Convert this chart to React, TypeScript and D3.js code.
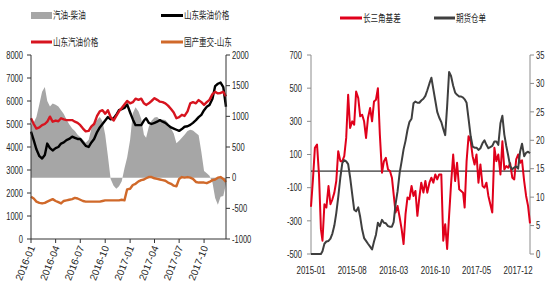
import React from 'react';
import * as d3 from 'd3';

const FONT = "'Liberation Sans', Arial, 'Noto Sans CJK SC', sans-serif";

// Dates at the 1st, 11th and 21st of each month
function dekadDates(year: number, month0: number, months: number): Date[] {
  const out: Date[] = [];
  for (let i = 0; i < months; i++) {
    for (const d of [1, 11, 21]) out.push(new Date(year, month0 + i, d));
  }
  return out;
}

// ---------- Left chart: Shandong fuel prices (2016-01 .. 2017-12) ----------
const leftDates = dekadDates(2016, 0, 24);

// 汽油-柴油 (right axis)
const gasDieselSpread = [
  859, 900, 990, 1200, 1400, 1480, 1250, 1160, 1210, 1190, 1160, 1100,
  1040, 950, 870, 800, 760, 700, 660, 620, 570, 620, 800, 900,
  940, 990, 920, 700, 350, -20, -130, -180, -140, -60, 150, 330,
  620, 1050, 1150, 1080, 960, 700, 650, 830, 930, 980, 990, 940,
  950, 940, 890, 800, 720, 560, 600, 650, 700, 760, 780, 770,
  730, 690, 420, 110, 70, 30, -80, -330, -440, -310, -300, -100,
];

// 山东柴油价格 (left axis)
const dieselPrice = [
  4670, 4300, 3900, 3600, 3500, 3650, 4150, 3950, 3850, 3950, 4000, 4150,
  4200, 4300, 4350, 4450, 4400, 4350, 4350, 4200, 4050, 4000, 4200, 4350,
  4650, 4850, 5000, 5150, 5300, 5200, 5250, 5400, 5600, 5650, 5700, 5850,
  5500, 5200, 4950, 4950, 4950, 5150, 5250, 5050, 5000, 5050, 5100, 5170,
  5100, 5050, 4950, 4850, 4800, 4750, 4700, 4780, 4880, 4900, 4960, 5050,
  5170, 5300, 5400, 5600, 5750, 5830, 6100, 6650, 6750, 6800, 6600, 5750,
];

// 山东汽油价格 (left axis)
const gasolinePrice = [
  5250, 5000, 4800, 4850, 4950, 5000, 5100, 5320, 5100, 5150, 5120, 5250,
  5200, 5170, 5170, 5170, 5100, 5050, 4950, 4800, 4680, 4700, 4900, 5000,
  5350, 5550, 5600, 5450, 5600, 5300, 5150, 5350, 5550, 5700, 5850, 6000,
  5900, 5950, 6100, 6050, 6100, 5900, 5830, 5900, 6000, 6120, 6050, 5970,
  5950, 5900, 5800, 5650, 5500, 5250, 5300, 5400, 5350, 5550, 5900, 5950,
  5900, 6040, 5950, 5830, 5950, 6050, 6300, 6400, 6330, 6350, 6400, 6200,
];

// 国产重交-山东 (right axis)
const heavyAsphaltSpread = [
  -310, -340, -390, -410, -420, -410, -390, -370, -350, -380, -400, -420,
  -380, -370, -360, -350, -330, -340, -360, -380, -390, -390, -390, -390,
  -390, -390, -380, -370, -370, -370, -370, -370, -370, -360, -370, -190,
  -180, -120, -100, -60, -40, -30, -10, 10, 10, -10, -20, -30,
  -40, -50, -80, -100, -130, -140, -20, 10, 0, 10, 0, -20,
  -70, -80, -80, -80, -90, -70, -40, -30, 0, 10, -20, -70,
];

const leftTicksL = [0, 1000, 2000, 3000, 4000, 5000, 6000, 7000, 8000];
const leftTicksR = [-1000, -500, 0, 500, 1000, 1500, 2000];
const leftXTicks = ['2016-01', '2016-04', '2016-07', '2016-10', '2017-01', '2017-04', '2017-07', '2017-10'];

// ---------- Right chart: Yangtze delta basis & warehouse receipts (2015-01 .. 2018-01) ----------
const rightDates = [...dekadDates(2015, 0, 37), new Date(2018, 0, 31)];

// 长三角基差 (left axis)
const deltaBasis = [
  -215, -50, 140, 160, -20, -350, -420, -200, -220, -90, -200, -170,
  -130, -60, 120, 60, 60, 90, 200, 460, 260, 300, 280, 480,
  440, 330, 340, 300, 200, 320, 380, 300, 420, 430, 500, 220,
  -10, 60, 80, 10, 0, -40, -140, -250, -210, -280, -350, -440,
  -260, -160, -170, -90, -150, -120, -270, -160, -70, -130, -60, -130,
  -70, -40, -70, -20, -50, -20, -20, -420, -320, -470, -270, -80,
  100, -60, 50, -110, -120, -130, -220, 60, 210, 180, 90, 40,
  100, -70, 40, -90, -100, -70, -150, -200, -250, 140, 60, 100,
  -20, 180, 10, 30, 20, 47, -40, -50, 70, 100, 50, 65,
  -60, -150, -210, -315,
];

// 期货仓单 (right axis)
const futuresReceipts = [
  0, 0, 0, 0, 0, 0, 0.5, 1.8, 2.2, 2.3, 2.7, 3.6,
  5, 7.2, 10, 13.5, 16, 16.5, 16.3, 15.8, 13.5, 10.5, 7.8, 7.5,
  8.2, 6.5, 4.3, 2.8, 2.3, 1.8, 1.3, 0.8, 2.2, 3.4, 5.5, 4.9,
  6, 5.5, 5.4, 4.9, 4.8, 4.8, 5.6, 8.8, 11, 14.3, 16.3, 18.4,
  19.9, 21.8, 23.2, 23.8, 26.5, 26.8, 26.6, 26.6, 27, 27.3, 27.8, 28.8,
  30, 31, 29, 27, 25, 24, 23.2, 22, 20.9, 26, 32, 31.3,
  29.6, 28.4, 28, 27.7, 27.7, 27.5, 27.2, 26.6, 23.8, 20.7, 18.9, 18.7,
  18.7, 18.3, 18.6, 19.5, 20, 19.2, 18.6, 18.8, 19, 19.8, 19.8, 19.2,
  23, 24.3, 21, 19, 17.3, 15.4, 14.9, 15.2, 15.4, 15, 18, 19.4,
  17.2, 17.8, 18, 17.7,
];

const rightTicksL = [-500, -300, -100, 100, 300, 500, 700];
const rightTicksR = [0, 5, 10, 15, 20, 25, 30, 35];
const rightXTicks = ['2015-01', '2015-08', '2016-03', '2016-10', '2017-05', '2017-12'];

const parseMonth = d3.timeParse('%Y-%m');

type TProps = {
  x: number; y: number; anchor?: string; size?: number; sx?: number;
  fill?: string; rotate?: number; dy?: string; children: React.ReactNode;
};
// Horizontally condensed text
function CText({ x, y, anchor = 'start', size = 10.5, sx = 0.72, fill = '#262626', rotate = 0, dy = '0.35em', children }: TProps) {
  return (
    <g transform={`translate(${x},${y})${rotate ? ` rotate(${rotate})` : ''} scale(${sx},1)`}>
      <text textAnchor={anchor as any} fontSize={size} fontFamily={FONT} fill={fill} dy={dy}>{children}</text>
    </g>
  );
}

function LeftChart() {
  const x0 = 31, x1 = 226, yTop = 55, yBot = 239;
  const x = d3.scaleTime().domain([new Date(2016, 0, 1), new Date(2017, 11, 21)]).range([x0, x1]);
  const yL = d3.scaleLinear().domain([0, 8000]).range([yBot, yTop]);
  const yR = d3.scaleLinear().domain([-1000, 2000]).range([yBot, yTop]);

  const area = d3.area<number>()
    .x((_, i) => x(leftDates[i]))
    .y0(yR(0))
    .y1((d) => yR(d));
  const lineL = d3.line<number>().x((_, i) => x(leftDates[i])).y((d) => yL(d));
  const lineR = d3.line<number>().x((_, i) => x(leftDates[i])).y((d) => yR(d));

  const axisColor = '#333';
  return (
    <g>
      {/* legend */}
      <rect x={31} y={12} width={21} height={7} fill="#a6a6a6" />
      <CText x={53} y={15.5}>汽油-柴油</CText>
      <line x1={161} x2={183} y1={15.5} y2={15.5} stroke="#000" strokeWidth={3} />
      <CText x={184} y={15.5}>山东柴油价格</CText>
      <line x1={31} x2={52} y1={42} y2={42} stroke="#d7141f" strokeWidth={3} />
      <CText x={53} y={42}>山东汽油价格</CText>
      <line x1={161} x2={183} y1={42} y2={42} stroke="#d0692a" strokeWidth={3} />
      <CText x={184} y={42}>国产重交-山东</CText>

      {/* series */}
      <path d={area(gasDieselSpread) || ''} fill="#a6a6a6" />
      <path d={lineL(dieselPrice) || ''} fill="none" stroke="#000" strokeWidth={2.4} strokeLinejoin="round" />
      <path d={lineL(gasolinePrice) || ''} fill="none" stroke="#d7141f" strokeWidth={2.4} strokeLinejoin="round" />
      <path d={lineR(heavyAsphaltSpread) || ''} fill="none" stroke="#d0692a" strokeWidth={2.4} strokeLinejoin="round" />

      {/* axes */}
      <line x1={x0} x2={x0} y1={yTop} y2={yBot} stroke={axisColor} strokeWidth={1} />
      <line x1={x1} x2={x1} y1={yTop} y2={yBot} stroke={axisColor} strokeWidth={1} />
      <line x1={x0} x2={x1} y1={yBot} y2={yBot} stroke={axisColor} strokeWidth={1} />
      {leftTicksL.map((v) => (
        <g key={`l${v}`}>
          <line x1={x0 - 4} x2={x0} y1={yL(v)} y2={yL(v)} stroke={axisColor} />
          <CText x={23} y={yL(v)} anchor="end">{String(v)}</CText>
        </g>
      ))}
      {leftTicksR.map((v) => (
        <g key={`r${v}`}>
          <line x1={x1} x2={x1 + 4} y1={yR(v)} y2={yR(v)} stroke={axisColor} />
          <CText x={232} y={yR(v)}>{String(v)}</CText>
        </g>
      ))}
      {leftXTicks.map((t) => {
        const xp = x(parseMonth(t) as Date);
        return (
          <g key={t}>
            <line x1={xp} x2={xp} y1={yBot} y2={yBot + 4} stroke={axisColor} />
            <CText x={xp + 1} y={246} anchor="end" rotate={-68} sx={1} size={10}>{t}</CText>
          </g>
        );
      })}
    </g>
  );
}

function RightChart() {
  const x0 = 311, x1 = 530, yTop = 55, yBot = 254;
  const x = d3.scaleTime().domain([new Date(2015, 0, 1), new Date(2018, 0, 31)]).range([x0, x1]);
  const yL = d3.scaleLinear().domain([-500, 700]).range([yBot, yTop]);
  const yR = d3.scaleLinear().domain([0, 35]).range([yBot, yTop]);

  const lineL = d3.line<number>().x((_, i) => x(rightDates[i])).y((d) => yL(d));
  const lineR = d3.line<number>().x((_, i) => x(rightDates[i])).y((d) => yR(d));
  const axisColor = '#8c8c8c';
  return (
    <g>
      {/* legend */}
      <line x1={340} x2={362} y1={18} y2={18} stroke="#e0001b" strokeWidth={3} />
      <CText x={363} y={18}>长三角基差</CText>
      <line x1={434} x2={455} y1={18} y2={18} stroke="#3f3f3f" strokeWidth={3} />
      <CText x={456} y={18}>期货仓单</CText>

      {/* axes */}
      <line x1={x0} x2={x0} y1={yTop} y2={yBot} stroke={axisColor} />
      <line x1={x1} x2={x1} y1={yTop} y2={yBot} stroke={axisColor} />
      {rightTicksL.map((v) => (
        <g key={`l${v}`}>
          <line x1={x0 - 4} x2={x0} y1={yL(v)} y2={yL(v)} stroke={axisColor} />
          <CText x={302} y={yL(v)} anchor="end">{String(v)}</CText>
        </g>
      ))}
      {rightTicksR.map((v) => (
        <g key={`r${v}`}>
          <line x1={x1} x2={x1 + 4} y1={yR(v)} y2={yR(v)} stroke={axisColor} />
          <CText x={536} y={yR(v)}>{String(v)}</CText>
        </g>
      ))}
      <line x1={x0} x2={x1} y1={yL(0)} y2={yL(0)} stroke="#000" strokeWidth={1} />
      {rightXTicks.map((t) => (
        <CText key={t} x={x(parseMonth(t) as Date)} y={270} anchor="middle" size={11}>{t}</CText>
      ))}

      {/* series */}
      <path d={lineL(deltaBasis) || ''} fill="none" stroke="#e0001b" strokeWidth={2} strokeLinejoin="round" />
      <path d={lineR(futuresReceipts) || ''} fill="none" stroke="#3f3f3f" strokeWidth={2} strokeLinejoin="round" />
    </g>
  );
}

export default function App() {
  return (
    <svg width={550} height={300} style={{ position: 'absolute', left: 0, top: 0, background: '#fff' }}>
      <rect width={550} height={300} fill="#fff" />
      <LeftChart />
      <RightChart />
    </svg>
  );
}
